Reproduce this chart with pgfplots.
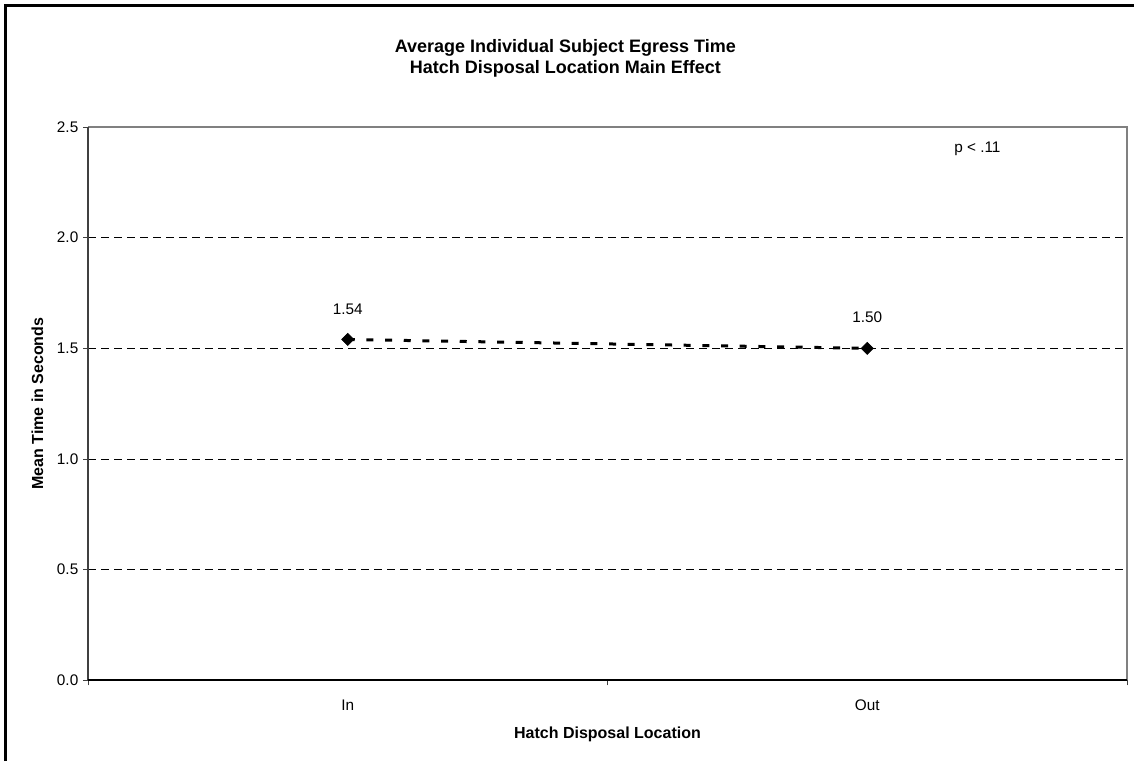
\documentclass[border=0pt]{standalone}
\usepackage{fontspec}
\setmainfont{Liberation Sans}
\usepackage{pgfplots}
\pgfplotsset{compat=1.18}
\begin{document}
\begin{tikzpicture}
\path[use as bounding box] (0,0) rectangle (850.5pt,570.75pt);
\draw[line width=2.25pt, line join=miter] (4.125pt,0pt) -- (4.125pt,566.625pt) -- (850.5pt,566.625pt);
\node[align=center, font=\bfseries\fontsize{13.5}{16.3}\selectfont] at (424pt,527pt) {Average Individual Subject Egress Time\\Hatch Disposal Location Main Effect};
\begin{axis}[
  at={(66pt,60.5pt)}, anchor=south west,
  scale only axis, width=779.25pt, height=415pt,
  xmin=0.5, xmax=2.5, ymin=0, ymax=2.5,
  clip=false,
  xtick={0.5,1.5,2.5}, xticklabels={In,Out}, x tick label as interval,
  ytick={0,0.5,1,1.5,2,2.5},
  yticklabel style={/pgf/number format/fixed, /pgf/number format/fixed zerofill, /pgf/number format/precision=1},
  xticklabel style={anchor=base, yshift=-19pt},
  /pgf/number format/assume math mode=true,
  tick align=outside, tick pos=left, major tick length=3.75pt,
  tick style={black!75, line width=0.75pt},
  axis line style={draw=none},
  ymajorgrids, major grid style={black, dash pattern=on 6pt off 3.75pt, line width=0.75pt},
  ticklabel style={font=\fontsize{11.5}{13}\selectfont},
  label style={font=\bfseries\fontsize{12}{14}\selectfont},
  xlabel={Hatch Disposal Location},
  ylabel={Mean Time in Seconds},
  xlabel style={at={(axis description cs:0.5,-0.097)}, anchor=center},
  ylabel style={at={(axis description cs:-0.0488,0.5)}, anchor=center},
]
\draw[black!50, line width=1pt] (rel axis cs:0,1) -- (rel axis cs:1,1) -- (rel axis cs:1,0);
\draw[black!75, line width=1pt] (rel axis cs:0,0) -- (rel axis cs:0,1);
\draw[black, line width=1.5pt] (rel axis cs:0,0) -- (rel axis cs:1,0);
\addplot[black, line width=2.25pt, dash pattern=on 5.25pt off 8.75pt,
  mark=square*, mark size=3.2pt, mark options={solid, rotate=45, fill=black, line width=0.5pt},
  point meta=y, nodes near coords,
  every node near coord/.append style={font=\fontsize{11.5}{13}\selectfont, anchor=center, yshift=23pt,
    /pgf/number format/fixed, /pgf/number format/fixed zerofill, /pgf/number format/precision=2}]
  coordinates {(1,1.54) (2,1.50)};
\node[font=\fontsize{11.5}{13}\selectfont] at (axis cs:2.212,2.402) {p < .11};
\end{axis}
\end{tikzpicture}
\end{document}
